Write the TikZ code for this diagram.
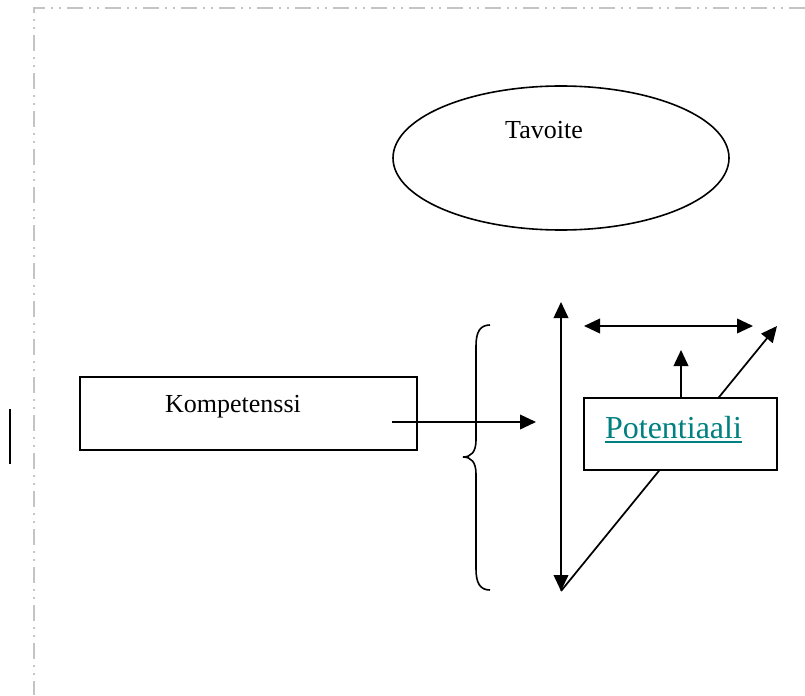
\documentclass[tikz,border=0pt]{standalone}
\usepackage{fontspec}
\setmainfont{Liberation Serif}
\usetikzlibrary{shapes.geometric,arrows.meta}
\definecolor{linkteal}{HTML}{008080}
\definecolor{bordergray}{HTML}{C4C4C4}
\begin{document}
\begin{tikzpicture}[x=0.75pt,y=-0.75pt,
  boxnode/.style={draw=black,line width=1.4pt,fill=white,rectangle,inner sep=0pt},
  arr/.style={line width=1.3pt,-{Triangle[length=12pt,width=11pt]}},
  dblarr/.style={line width=1.3pt,{Triangle[length=12pt,width=11pt]}-{Triangle[length=12pt,width=11pt]}},
  txt/.style={font=\fontsize{19.5}{23}\selectfont,anchor=base,inner sep=0pt},
  pagebord/.style={draw=bordergray,line width=1.5pt,dash pattern=on 12pt off 4.5pt on 1.5pt off 4.5pt on 1.5pt off 4.5pt}]
\useasboundingbox (0,0) rectangle (805,695);
% page border
\coordinate (bc) at (34,8);
\coordinate (btr) at (805,8);
\coordinate (bbl) at (34,695);
\draw[pagebord] (btr) -- (bc) -- (bbl);
% left margin bar
\coordinate (lb1) at (10,409);
\coordinate (lb2) at (10,464);
\draw[line width=1.6pt] (lb1) -- (lb2);
% ellipse
\node[draw,ellipse,line width=1.2pt,minimum width=252pt,minimum height=108pt,inner sep=0pt] (tav) at (561,158) {};
\node[txt] (tavtxt) at (544,139) {Tavoite};
% Kompetenssi box
\node[boxnode,minimum width=252.75pt,minimum height=54.75pt] (komp) at (248.5,413.5) {};
\node[txt] (komptxt) at (233,412) {Kompetenssi};
% arrow from box
\coordinate (ks) at (392,422);
\coordinate (ke) at (536,422);
\draw[arr] (ks) -- (ke);
% brace
\draw[line width=1.2pt] (490,325) .. controls (480,325) and (476,332) .. (476,346) -- (476,440)
  .. controls (476,452) and (471,457) .. (463,457)
  .. controls (471,457) and (476,462) .. (476,474) -- (476,569)
  .. controls (476,583) and (480,590) .. (490,590);
% vertical double arrow
\coordinate (vt) at (561,302);
\coordinate (vb) at (561,591);
\draw[dblarr] (vb) -- (vt);
% diagonal arrow
\coordinate (dt) at (777,326);
\draw[arr] (vb) -- (dt);
% horizontal double arrow
\coordinate (hl) at (584,326);
\coordinate (hr) at (753,326);
\draw[dblarr] (hl) -- (hr);
% Potentiaali box
\node[boxnode,minimum width=144.75pt,minimum height=54pt] (pot) at (680.5,434) {};
\node[txt,font=\fontsize{24}{28}\selectfont,text=linkteal] (pottxt) at (673.5,438) {Potentiaali};
\coordinate (ul1) at (605,442);
\coordinate (ul2) at (742,442);
\draw[linkteal,line width=1.1pt] (ul1) -- (ul2);
% up arrow
\coordinate (ut) at (681,350);
\draw[arr] (pot.north -| ut) -- (ut);
\end{tikzpicture}
\end{document}
